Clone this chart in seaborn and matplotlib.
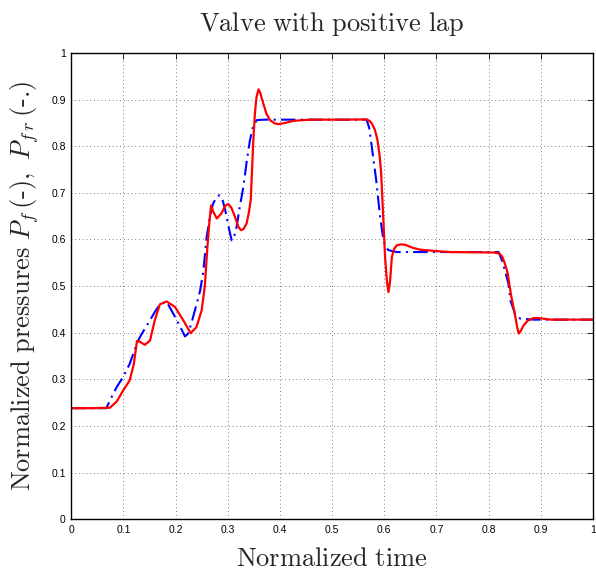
import numpy as np
import pandas as pd
import matplotlib
matplotlib.use("Agg")
import matplotlib.pyplot as plt
import seaborn as sns

# P_f (solid red)
t_pf = [0.0, 0.04, 0.074, 0.087, 0.0995, 0.112, 0.12, 0.126, 0.131, 0.141, 0.151,
        0.16, 0.17, 0.183, 0.199, 0.215, 0.229, 0.24, 0.25, 0.256, 0.261, 0.265,
        0.268, 0.272, 0.279, 0.288, 0.295, 0.301, 0.307, 0.314, 0.32, 0.325, 0.33,
        0.336, 0.34, 0.344, 0.349, 0.352, 0.355, 0.359, 0.362, 0.368, 0.374, 0.381,
        0.39, 0.397, 0.41, 0.426, 0.458, 0.52, 0.5666, 0.572, 0.576, 0.582, 0.587,
        0.591, 0.594, 0.5985, 0.6015, 0.605, 0.608, 0.611, 0.6145, 0.619, 0.624,
        0.632, 0.64, 0.655, 0.669, 0.7, 0.7265, 0.8096, 0.8205, 0.826, 0.83, 0.836,
        0.843, 0.85, 0.855, 0.8577, 0.862, 0.867, 0.875, 0.885, 0.893, 0.905, 0.918, 1.0]
pf = [0.238, 0.238, 0.239, 0.252, 0.276, 0.2975, 0.333, 0.382, 0.381, 0.374, 0.383,
      0.426, 0.461, 0.467, 0.455, 0.426, 0.399, 0.412, 0.448, 0.5, 0.584, 0.64,
      0.673, 0.66, 0.645, 0.656, 0.672, 0.676, 0.668, 0.648, 0.628, 0.62, 0.622,
      0.634, 0.655, 0.684, 0.813, 0.87, 0.905, 0.922, 0.915, 0.892, 0.87, 0.856,
      0.849, 0.8475, 0.85, 0.8545, 0.857, 0.857, 0.8575, 0.854, 0.849, 0.835, 0.813,
      0.78, 0.7415, 0.634, 0.5625, 0.51, 0.487, 0.51, 0.5625, 0.58, 0.5875,
      0.5895, 0.5885, 0.582, 0.578, 0.575, 0.573, 0.572, 0.57, 0.563, 0.5517, 0.53,
      0.48, 0.441, 0.41, 0.398, 0.405, 0.4157, 0.426, 0.431, 0.4317, 0.43, 0.428, 0.428]

# P_fr (dash-dot blue)
t_pfr = [0.0, 0.0675, 0.074, 0.087, 0.0995, 0.112, 0.128, 0.137, 0.147, 0.16, 0.17,
         0.183, 0.199, 0.21, 0.218, 0.224, 0.23, 0.24, 0.247, 0.253, 0.2595, 0.266,
         0.272, 0.278, 0.284, 0.29, 0.295, 0.301, 0.3075, 0.312, 0.317, 0.323, 0.33,
         0.336, 0.3425, 0.349, 0.3555, 0.37, 0.566, 0.571, 0.576, 0.5845, 0.592,
         0.5985, 0.603, 0.608, 0.624, 0.819, 0.8257, 0.832, 0.838, 0.8417, 0.8505,
         0.856, 0.861, 0.887, 1.0]
pfr = [0.238, 0.238, 0.2545, 0.283, 0.305, 0.333, 0.383, 0.401, 0.419, 0.444, 0.461,
       0.466, 0.434, 0.41, 0.392, 0.398, 0.419, 0.46, 0.49, 0.53, 0.605, 0.65,
       0.677, 0.69, 0.695, 0.685, 0.664, 0.63, 0.598, 0.605, 0.627, 0.67, 0.713,
       0.765, 0.813, 0.845, 0.856, 0.857, 0.857, 0.84, 0.799, 0.727, 0.648,
       0.598, 0.583, 0.577, 0.573, 0.573, 0.555, 0.53, 0.505, 0.469, 0.441,
       0.434, 0.43, 0.428, 0.428]

ticks = [0, 0.1, 0.2, 0.3, 0.4, 0.5, 0.6, 0.7, 0.8, 0.9, 1]
tick_labels = ['0', '0.1', '0.2', '0.3', '0.4', '0.5', '0.6', '0.7', '0.8', '0.9', '1']

sns.set_style("white")
plt.rcParams['font.family'] = ['Liberation Sans', 'DejaVu Sans']
plt.rcParams['mathtext.fontset'] = 'cm'

fig = plt.figure(figsize=(5.96, 5.73), dpi=100)
ax = fig.add_axes([0.1195, 0.094, 0.8755, 0.8135])

df_pf = pd.DataFrame({'t': t_pf, 'p': pf})
df_pfr = pd.DataFrame({'t': t_pfr, 'p': pfr})
sns.lineplot(data=df_pfr, x='t', y='p', ax=ax, color='#0000ff', lw=1.5,
             linestyle=(0, (7, 2.5, 1, 2.5)), estimator=None, sort=False)
sns.lineplot(data=df_pf, x='t', y='p', ax=ax, color='#ff0000', lw=1.6,
             estimator=None, sort=False)

ax.set_xlim(0, 1)
ax.set_ylim(0, 1)
ax.set_xticks(ticks)
ax.set_xticklabels(tick_labels)
ax.set_yticks(ticks)
ax.set_yticklabels(tick_labels)
ax.tick_params(direction='in', top=True, right=True, length=4, width=0.6,
               labelsize=7.5, pad=4, colors='black')
ax.grid(True, linestyle=(0, (1, 3.5)), color='#555555', lw=0.6)
for s in ax.spines.values():
    s.set_color('black')
    s.set_linewidth(1.0)

ax.set_title(r'$\mathrm{Valve\ with\ positive\ lap}$', fontsize=19, pad=16)
ax.set_xlabel(r'$\mathrm{Normalized\ time}$', fontsize=19, labelpad=9)
ax.set_ylabel(r'$\mathrm{Normalized\ pressures}\ P_f\,(\text{-}),\ P_{f\,r}\,(\text{-.})$',
              fontsize=19, labelpad=7)

fig.savefig('out.png', dpi=100, facecolor='white')
